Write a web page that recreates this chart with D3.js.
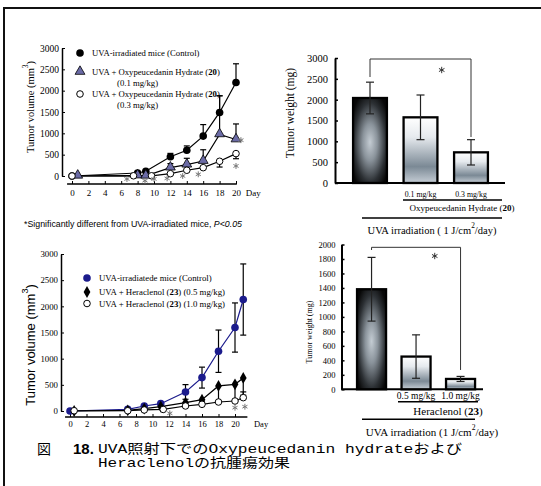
<!DOCTYPE html>
<html>
<head>
<meta charset="utf-8">
<script src="https://cdn.jsdelivr.net/npm/d3@7"></script>
<style>
  body { margin: 0; background: #fff; }
  svg { display: block; }
</style>
</head>
<body>
<div id="chart"></div>
<script>
// ---------- data ----------
var dayTicks = [0, 2, 4, 6, 8, 10, 12, 14, 16, 18, 20];

// upper left: Oxypeucedanin hydrate (20), tumor volume (mm3)
var ctrlDaysA = [0, 8, 9, 12, 14, 16, 18, 20];
var ctrlVolA = [0, 70, 110, 450, 605, 935, 1490, 2190];
var ctrlUpA = [0, 0, 0, 80, 100, 270, 390, 440];
var lowDaysA = [0.7, 8, 9, 12, 14, 16, 18, 20];
var lowVolA = [5, 10, 5, 195, 265, 350, 975, 855];
var lowUpA = [0, 0, 0, 95, 150, 265, 905, 365];
var highDaysA = [0, 7.5, 9.7, 12, 14, 16, 18, 20];
var highVolA = [0, 5, 5, 55, 135, 195, 345, 525];
var highDownA = [0, 0, 0, 0, 0, 0, 135, 120];
var starsA = [[6.7, -70], [8.9, -110], [10, -70], [11.6, -55], [13.5, 0], [15.4, 40], [20, 235], [20.6, 840]];

// lower left: Heraclenol (23), tumor volume (mm3)
var ctrlDaysC = [0, 7, 9, 11, 14, 16, 18, 20, 21];
var ctrlVolC = [0, 32, 96, 140, 364, 638, 1142, 1595, 2130];
var ctrlErrC = [0, 0, 0, 0, 140, 200, 405, 470, 680];
var lowDaysC = [0.5, 7, 9, 11, 14, 16, 18, 20, 21];
var lowVolC = [0, 13, 45, 85, 160, 217, 479, 510, 632];
var lowDownC = [0, 0, 0, 0, 0, 0, 290, 320, 330];
var highDaysC = [0.5, 7, 9, 11.3, 14, 16, 18, 20, 21];
var highVolC = [5, 5, 20, 30, 96, 128, 172, 191, 255];
var highUpC = [0, 0, 0, 0, 60, 50, 0, 0, 110];
var starsC = [[12.1, -44], [20, 63], [21.2, 82]];

// right: tumor weight (mg)
var groupsB = ['control', '0.1 mg/kg', '0.3 mg/kg'];
var weightB = [2040, 1576, 736];
var weightErrB = [380, 536, 304];
var bracketB = [2544, 2976, 1104];
var groupsD = ['control', '0.5 mg/kg', '1.0 mg/kg'];
var weightD = [1382, 452, 143];
var weightErrD = [440, 300, 35];
var bracketD = [1924, 1961, 267];

var W = 541, H = 486;
var SERIF = 'Liberation Serif, Times New Roman, serif';
var SANS = 'Liberation Sans, Arial, sans-serif';

var svg = d3.select('#chart').append('svg')
    .attr('width', W).attr('height', H)
    .attr('font-family', SERIF);

svg.append('rect').attr('width', W).attr('height', H).attr('fill', '#fff');
svg.append('path').attr('d', 'M4,486V8H541')
    .attr('fill', 'none').attr('stroke', '#111').attr('stroke-width', 2);

var defs = svg.append('defs');
var dark = defs.append('radialGradient').attr('id', 'gDark')
    .attr('cx', '50%').attr('cy', '52%').attr('r', '62%');
[[0, '#c4ccd3'], [0.35, '#8a939b'], [0.75, '#2c3034'], [1, '#080808']].forEach(function (s) {
    dark.append('stop').attr('offset', s[0]).attr('stop-color', s[1]);
});
var light = defs.append('linearGradient').attr('id', 'gLight')
    .attr('x1', 0).attr('y1', 0).attr('x2', 0).attr('y2', 1);
[[0, '#ffffff'], [0.3, '#e6eaee'], [0.75, '#7b8995'], [1, '#c6ced6']].forEach(function (s) {
    light.append('stop').attr('offset', s[0]).attr('stop-color', s[1]);
});

function zip(days, vals, up, down) {
    return days.map(function (d, i) {
        return { day: d, v: vals[i], up: up ? up[i] : 0, down: down ? down[i] : 0 };
    });
}

function addParts(text, parts) {
    parts.forEach(function (p) {
        var t = text.append('tspan').text(p[0]);
        if (p[1] === 'b') t.attr('font-weight', 'bold');
        if (p[1] === 'i') t.attr('font-style', 'italic');
        if (p[1] === 'sup') t.attr('baseline-shift', 'super').attr('font-size', '70%');
    });
}

function drawMarker(g, type, cx, cy, color) {
    if (type === 'dot') {
        g.append('circle').attr('cx', cx).attr('cy', cy).attr('r', 3.8).attr('fill', color);
    } else if (type === 'open') {
        g.append('circle').attr('cx', cx).attr('cy', cy).attr('r', 3.3)
            .attr('fill', '#fff').attr('stroke', '#000').attr('stroke-width', 1);
    } else if (type === 'tri') {
        g.append('path').attr('d', d3.symbol(d3.symbolTriangle, 42)())
            .attr('transform', 'translate(' + cx + ',' + (cy - 0.5) + ')')
            .attr('fill', '#6b6ba6').attr('stroke', '#000').attr('stroke-width', 0.8);
    } else if (type === 'dia') {
        g.append('path').attr('d', d3.symbol(d3.symbolDiamond, 40)())
            .attr('transform', 'translate(' + cx + ',' + cy + ')')
            .attr('fill', '#000');
    }
}

function star(g, cx, cy, color, size) {
    g.append('path').attr('d', d3.symbol(d3.symbolAsterisk, size)())
        .attr('transform', 'translate(' + cx + ',' + cy + ')')
        .attr('stroke', color).attr('stroke-width', 1).attr('fill', 'none');
}

function linePanel(o) {
    var g = svg.append('g');
    var x = d3.scaleLinear().domain([0, 20]).range(o.xr);
    var y = d3.scaleLinear().domain([0, 3000]).range(o.yr);

    var ya = g.append('g').attr('transform', 'translate(' + o.yAxisX + ',0)')
        .call(d3.axisLeft(y).tickValues(d3.range(0, 3001, 500)).tickFormat(d3.format('d'))
            .tickSize(-3).tickSizeOuter(0).tickPadding(o.yPad))
        .attr('font-family', SERIF).attr('font-size', o.yFont);
    ya.select('.domain').attr('stroke-width', 1.5);

    var xa = g.append('g').attr('transform', 'translate(0,' + o.xAxisY + ')')
        .call(d3.axisBottom(x).tickValues(dayTicks).tickFormat(d3.format('d'))
            .tickSize(-3).tickPadding(o.xPad))
        .attr('font-family', SERIF).attr('font-size', o.xFont);
    xa.select('.domain').remove();
    xa.append('line').attr('x1', x(o.xLine[0])).attr('x2', x(o.xLine[1]))
        .attr('stroke', '#000').attr('stroke-width', 1.5);
    xa.append('text').attr('x', x(o.dayAt)).attr('y', o.xPad).attr('dy', '0.71em')
        .attr('fill', '#000').attr('text-anchor', 'start').text('Day');

    var line = d3.line().x(function (d) { return x(d.day); }).y(function (d) { return y(d.v); });
    o.series.forEach(function (s) {
        g.append('path').datum(s.data).attr('d', line)
            .attr('fill', 'none').attr('stroke', s.color).attr('stroke-width', 1.2);
    });
    o.series.forEach(function (s) {
        s.data.forEach(function (d) {
            [[d.up, 1], [d.down, -1]].forEach(function (e) {
                if (!e[0]) return;
                var y2 = y(d.v + e[1] * e[0]);
                g.append('line').attr('x1', x(d.day)).attr('x2', x(d.day))
                    .attr('y1', y(d.v)).attr('y2', y2).attr('stroke', '#000').attr('stroke-width', 1.2);
                g.append('line').attr('x1', x(d.day) - 3).attr('x2', x(d.day) + 3)
                    .attr('y1', y2).attr('y2', y2).attr('stroke', '#000').attr('stroke-width', 1.2);
            });
        });
    });
    o.series.forEach(function (s) {
        s.data.forEach(function (d) { drawMarker(g, s.marker, x(d.day), y(d.v), s.color); });
    });
    o.stars.forEach(function (p) { star(g, x(p[0]), y(p[1]), '#777', 24); });

    o.legend.forEach(function (l) {
        drawMarker(g, l.marker, o.legX, l.y, l.color);
        var t = g.append('text').attr('x', o.legX + 12).attr('y', l.y)
            .attr('dominant-baseline', 'central').attr('font-size', o.legFont);
        addParts(t, l.parts);
        if (l.sub) {
            g.append('text').attr('x', o.legX + 37).attr('y', l.y + 11)
                .attr('dominant-baseline', 'central').attr('font-size', o.legFont).text(l.sub);
        }
    });

    var yl = g.append('text')
        .attr('transform', 'translate(' + o.ylab[0] + ',' + o.ylab[1] + ') rotate(-90)')
        .attr('text-anchor', 'middle').attr('dominant-baseline', 'central')
        .attr('font-family', o.ylabFamily).attr('font-size', o.ylabFont);
    addParts(yl, [['Tumor volume (mm'], ['3', 'sup'], [')']]);
}

function barPanel(o) {
    var g = svg.append('g');
    var x = d3.scaleBand().domain(o.groups).range(o.xr).paddingInner(o.pi).paddingOuter(o.po);
    var y = d3.scaleLinear().domain([0, o.ymax]).range(o.yr);
    var bw = x.bandwidth();
    var cx = function (k) { return x(o.groups[k]) + bw / 2; };

    var ya = g.append('g').attr('transform', 'translate(' + o.yAxisX + ',0)')
        .call(d3.axisLeft(y).tickValues(d3.range(0, o.ymax + 1, o.step)).tickFormat(d3.format('d'))
            .tickSize(-3).tickSizeOuter(0).tickPadding(o.yPad))
        .attr('font-family', SERIF).attr('font-size', o.yFont);
    ya.select('.domain').attr('stroke-width', 2);
    ya.selectAll('.tick line').attr('stroke-width', 1.5);

    g.append('line').attr('x1', o.yAxisX).attr('x2', o.xEnd).attr('y1', y(0)).attr('y2', y(0))
        .attr('stroke', '#000').attr('stroke-width', 2);

    g.selectAll('rect.bar').data(o.values).enter().append('rect')
        .attr('x', function (d, i) { return x(o.groups[i]); })
        .attr('y', function (d) { return y(d); })
        .attr('width', bw)
        .attr('height', function (d) { return y(0) - y(d); })
        .attr('fill', function (d, i) { return i === 0 ? 'url(#gDark)' : 'url(#gLight)'; })
        .attr('stroke', '#000').attr('stroke-width', 2.3);

    o.values.forEach(function (v, i) {
        var e = o.errs[i];
        g.append('line').attr('x1', cx(i)).attr('x2', cx(i)).attr('y1', y(v - e)).attr('y2', y(v + e))
            .attr('stroke', '#222').attr('stroke-width', 1.2);
        [v - e, v + e].forEach(function (w) {
            g.append('line').attr('x1', cx(i) - 4).attr('x2', cx(i) + 4).attr('y1', y(w)).attr('y2', y(w))
                .attr('stroke', '#222').attr('stroke-width', 1.2);
        });
    });

    g.append('path')
        .attr('d', 'M' + cx(0) + ',' + y(o.bracket[0]) + 'V' + y(o.bracket[1]) + 'H' + cx(2) + 'V' + y(o.bracket[2]))
        .attr('fill', 'none').attr('stroke', '#333').attr('stroke-width', 1);
    star(g, cx(1) + (cx(2) - cx(1)) * 0.42, y(o.starV), '#333', o.starSize);

    [1, 2].forEach(function (k) {
        g.append('text').attr('x', cx(k)).attr('y', o.mgY).attr('text-anchor', 'middle')
            .attr('dominant-baseline', 'central').attr('font-size', o.mgFont).text(o.groups[k]);
    });
    g.append('line').attr('x1', o.drugLine[0]).attr('x2', o.drugLine[1]).attr('y1', o.drugLine[2]).attr('y2', o.drugLine[2])
        .attr('stroke', '#000').attr('stroke-width', 1.5);
    var dt = g.append('text').attr('x', o.drugText[0]).attr('y', o.drugText[1]).attr('text-anchor', 'middle')
        .attr('dominant-baseline', 'central').attr('font-size', o.drugFont);
    addParts(dt, o.drugParts);
    g.append('line').attr('x1', o.uvaLine[0]).attr('x2', o.uvaLine[1]).attr('y1', o.uvaLine[2]).attr('y2', o.uvaLine[2])
        .attr('stroke', '#000').attr('stroke-width', 1.5);
    var ut = g.append('text').attr('x', o.uvaText[0]).attr('y', o.uvaText[1]).attr('text-anchor', 'middle')
        .attr('dominant-baseline', 'central').attr('font-size', o.uvaFont);
    addParts(ut, o.uvaParts);

    g.append('text')
        .attr('transform', 'translate(' + o.ylab[0] + ',' + o.ylab[1] + ') rotate(-90)')
        .attr('text-anchor', 'middle').attr('dominant-baseline', 'central')
        .attr('font-size', o.ylabFont).text('Tumor weight (mg)');
}

// ---------- panels ----------
linePanel({
    xr: [72, 236], yr: [176, 48], yAxisX: 62, xAxisY: 184, xLine: [-0.6, 20.1], dayAt: 21.2,
    yPad: 3, yFont: 9.5, xPad: 6, xFont: 9,
    series: [
        { data: zip(ctrlDaysA, ctrlVolA, ctrlUpA), color: '#000', marker: 'dot' },
        { data: zip(lowDaysA, lowVolA, lowUpA), color: '#000', marker: 'tri' },
        { data: zip(highDaysA, highVolA, null, highDownA), color: '#000', marker: 'open' }
    ],
    stars: starsA,
    legX: 80, legFont: 8.7,
    legend: [
        { y: 53, marker: 'dot', color: '#000', parts: [['UVA-irradiated mice (Control)']] },
        { y: 72, marker: 'tri', color: '#000', parts: [['UVA + Oxypeucedanin Hydrate ('], ['20', 'b'], [')']], sub: '(0.1 mg/kg)' },
        { y: 94, marker: 'open', color: '#000', parts: [['UVA + Oxypeucedanin Hydrate ('], ['20', 'b'], [')']], sub: '(0.3 mg/kg)' }
    ],
    ylab: [30, 107], ylabFamily: SERIF, ylabFont: 10.5
});

svg.append('text').attr('x', 24).attr('y', 224).attr('dominant-baseline', 'central')
    .attr('font-family', SANS).attr('font-size', 8.8)
    .call(function (t) { addParts(t, [['*Significantly different from UVA-irradiated mice, '], ['P<0.05', 'i']]); });

linePanel({
    xr: [70, 235], yr: [411, 254], yAxisX: 61, xAxisY: 417, xLine: [-0.6, 21.5], dayAt: 22.3,
    yPad: 3, yFont: 8.8, xPad: 4, xFont: 8.5,
    series: [
        { data: zip(ctrlDaysC, ctrlVolC, ctrlErrC, ctrlErrC), color: '#1b1b8c', marker: 'dot' },
        { data: zip(lowDaysC, lowVolC, null, lowDownC), color: '#000', marker: 'dia' },
        { data: zip(highDaysC, highVolC, highUpC), color: '#000', marker: 'open' }
    ],
    stars: starsC,
    legX: 87, legFont: 8.8,
    legend: [
        { y: 278, marker: 'dot', color: '#1b1b8c', parts: [['UVA-irradiatede mice (Control)']] },
        { y: 292, marker: 'dia', color: '#000', parts: [['UVA + Heraclenol ('], ['23', 'b'], [') (0.5 mg/kg)']] },
        { y: 303.5, marker: 'open', color: '#000', parts: [['UVA + Heraclenol ('], ['23', 'b'], [') (1.0 mg/kg)']] }
    ],
    ylab: [30, 345], ylabFamily: SANS, ylabFont: 13
});

barPanel({
    groups: groupsB, values: weightB, errs: weightErrB, bracket: bracketB, starV: 2712, starSize: 28,
    xr: [344.75, 496.25], pi: 0.33, po: 0.165, ymax: 3000, step: 500, yr: [183, 58],
    yAxisX: 335, xEnd: 505, yPad: 7, yFont: 10.5,
    mgY: 194, mgFont: 7.8,
    drugLine: [403, 502, 200], drugText: [462, 207.5], drugFont: 9,
    drugParts: [['Oxypeucedanin Hydrate ('], ['20', 'b'], [')']],
    uvaLine: [362, 502, 218], uvaText: [432, 230], uvaFont: 10.5,
    uvaParts: [['UVA irradiation ( 1 J/cm'], ['2', 'sup'], ['/day)']],
    ylab: [290, 113], ylabFont: 11.5
});

barPanel({
    groups: groupsD, values: weightD, errs: weightErrD, bracket: bracketD, starV: 1841, starSize: 28,
    xr: [349.3, 482.8], pi: 0.348, po: 0.174, ymax: 2000, step: 200, yr: [389.3, 244.5],
    yAxisX: 341.5, xEnd: 483, yPad: 6, yFont: 8.5,
    mgY: 395.7, mgFont: 9.5,
    drugLine: [398, 478, 401.7], drugText: [448, 410.7], drugFont: 11,
    drugParts: [['Heraclenol ('], ['23', 'b'], [')']],
    uvaLine: [362, 475, 419.3], uvaText: [432, 432], uvaFont: 11,
    uvaParts: [['UVA irradiation (1 J/cm'], ['2', 'sup'], ['/day)']],
    ylab: [309, 332], ylabFont: 8
});

// ---------- caption ----------
var CAP = "'Liberation Mono', 'Noto Sans CJK JP', monospace";
svg.append('text').attr('x', 37).attr('y', 454).attr('font-family', "'Noto Sans CJK JP'")
    .attr('font-size', 14).text('図');
svg.append('text').attr('x', 73).attr('y', 454).attr('font-family', SANS)
    .attr('font-weight', 'bold').attr('font-size', 15).text('18.');
svg.append('text').attr('x', 98).attr('y', 453).attr('font-family', CAP).attr('font-size', 13)
    .attr('textLength', 364).attr('lengthAdjust', 'spacingAndGlyphs')
    .text('UVA照射下でのOxypeucedanin hydrateおよび');
svg.append('text').attr('x', 98).attr('y', 467).attr('font-family', CAP).attr('font-size', 13)
    .attr('textLength', 192).attr('lengthAdjust', 'spacingAndGlyphs')
    .text('Heraclenolの抗腫瘍効果');
</script>
</body>
</html>
